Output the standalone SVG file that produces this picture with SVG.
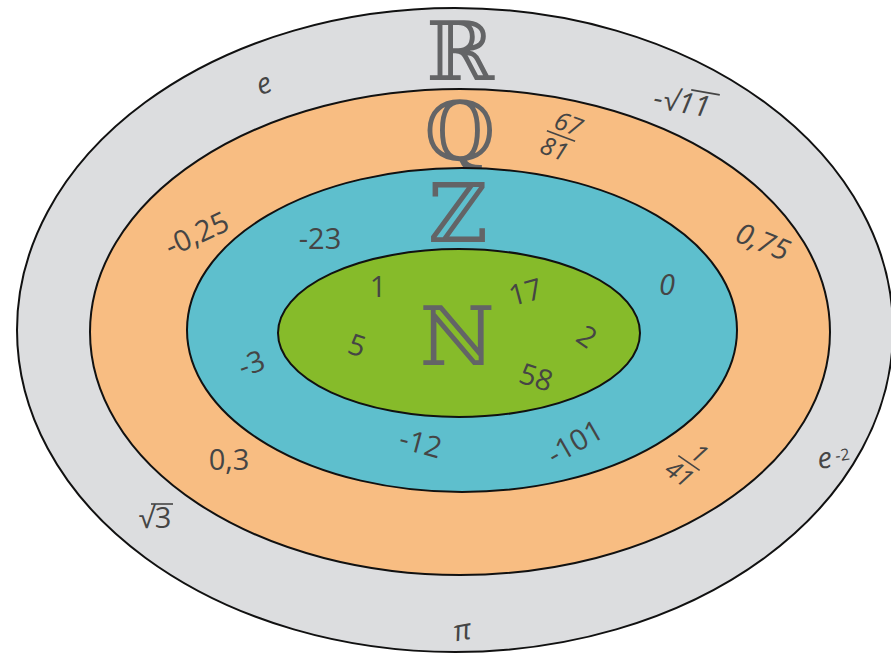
<svg xmlns="http://www.w3.org/2000/svg" width="891" height="658" viewBox="0 0 891 658">
<style>
.ring{stroke:#111;stroke-width:2}
.big{font-family:"DejaVu Serif","DejaVu Sans",serif;font-size:82px;fill:#636466;text-anchor:middle}
.t{font-family:"Open Sans","Noto Sans",sans-serif;font-size:29px;fill:#454545;text-anchor:middle}
.s{font-family:"Open Sans","Noto Sans",sans-serif;font-size:25px;fill:#454545;text-anchor:middle;font-style:italic}
.ln{stroke:#454545;stroke-width:1.6}
</style>
<rect width="891" height="658" fill="#fff"/>
<g id="reals">
<ellipse class="ring" cx="455" cy="330" rx="438" ry="322" fill="#dcdddf"/>
<text class="big" x="460" y="80">ℝ</text>
<text class="t" style="font-style:italic" transform="translate(267,93) rotate(-20)">e</text>
<g transform="translate(690,114) rotate(10)">
<text class="t" style="font-style:italic" x="-10" y="0">-√11</text>
<line class="ln" x1="-3" y1="-24" x2="26" y2="-24"/>
</g>
<g transform="translate(826,468) rotate(-8)">
<text class="t" style="font-style:italic" x="0" y="0">e</text>
<text class="s" style="font-size:16px;font-style:normal" x="18" y="-5">-2</text>
</g>
<g transform="translate(155,528)">
<text class="t" x="0" y="0">√3</text>
<line class="ln" x1="-4" y1="-24" x2="18" y2="-24"/>
</g>
<text class="t" style="font-style:italic" transform="translate(464,640) rotate(-10)">π</text>
</g>
<g id="rationals">
<ellipse class="ring" cx="460" cy="332" rx="370" ry="243" fill="#f8bd82"/>
<text class="big" x="460" y="160">ℚ</text>
<g transform="translate(561,136) rotate(20)">
<text class="s" x="3" y="-5">67</text>
<line class="ln" x1="-15" y1="0" x2="15" y2="0"/>
<text class="s" x="-2" y="23">81</text>
</g>
<text class="t" transform="translate(201,243) rotate(-25)">-0,25</text>
<text class="t" style="font-style:italic" transform="translate(759,251) rotate(22)">0,75</text>
<text class="t" x="229" y="470">0,3</text>
<g transform="translate(689,463) rotate(35)">
<text class="s" x="3" y="-5">1</text>
<line class="ln" x1="-13" y1="0" x2="13" y2="0"/>
<text class="s" x="-2" y="23">41</text>
</g>
</g>
<g id="integers">
<ellipse class="ring" cx="462" cy="330" rx="275" ry="162" fill="#5ebfcd"/>
<text class="big" x="458" y="242">ℤ</text>
<text class="t" x="320" y="249">-23</text>
<text class="t" style="font-style:italic" x="667" y="295">0</text>
<text class="t" transform="translate(255,373) rotate(-20)">-3</text>
<text class="t" transform="translate(418,453) rotate(15)">-12</text>
<text class="t" transform="translate(580,451) rotate(-30)">-101</text>
</g>
<g id="naturals">
<ellipse class="ring" cx="459" cy="333" rx="181" ry="84" fill="#86bb2a"/>
<text class="big" x="457" y="365">ℕ</text>
<text class="t" x="378" y="297">1</text>
<text class="t" transform="translate(528,302) rotate(-15)">17</text>
<text class="t" transform="translate(354,355) rotate(18)">5</text>
<text class="t" transform="translate(581,345) rotate(35)">2</text>
<text class="t" transform="translate(533,387) rotate(18)">58</text>
</g>
<g id="connectors"/>
</svg>
